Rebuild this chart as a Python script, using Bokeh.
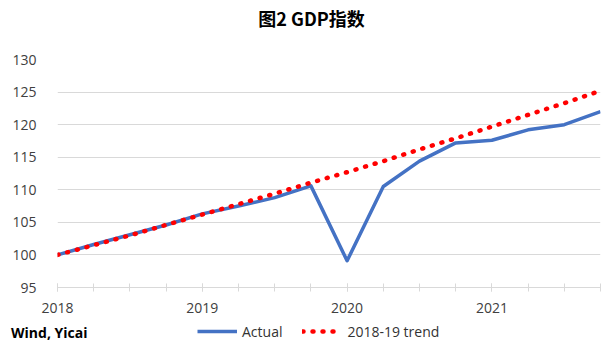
from bokeh.plotting import figure
from bokeh.models import Range1d, FixedTicker, Legend, LegendItem, Label, LinearAxis
from bokeh.layouts import column
from bokeh.embed import file_html
from bokeh.resources import INLINE

# Quarterly index, 2018Q1 .. 2021Q4
quarters = list(range(16))
actual = [100.0, 101.6, 103.1, 104.6, 106.3, 107.5, 108.8, 110.6,
          99.1, 110.5, 114.4, 117.2, 117.6, 119.2, 120.0, 122.0]
trend = [100.0, 101.5, 103.0, 104.6, 106.2, 107.8, 109.4, 111.1,
         112.7, 114.4, 116.2, 117.9, 119.7, 121.5, 123.3, 125.2]
year_ticks = [0, 4, 8, 12]
year_labels = ["2018", "2019", "2020", "2021"]
y_ticks = [95, 100, 105, 110, 115, 120, 125, 130]

FONT = "Open Sans"
GRID = "#d9d9d9"
BLUE = "#4472C4"
RED = "#FF0000"
W = 606
L, R = 57, 6            # frame borders (frames are aligned in the column)


def strip(h):
    f = figure(width=W, height=h, output_backend="svg", toolbar_location=None,
               x_range=Range1d(L, W - R), y_range=Range1d(0, h),
               x_axis_type=None, y_axis_type=None,
               min_border_left=L, min_border_right=R, min_border_top=0, min_border_bottom=0)
    f.outline_line_color = None
    f.xgrid.visible = False
    f.ygrid.visible = False
    f.background_fill_color = "white"
    f.border_fill_color = "white"
    return f


# ---- title strip ----
top = strip(35)
top.add_layout(Label(x=311, y=18, text="图2 GDP指数", text_align="center", text_baseline="middle",
                     text_font="Noto Sans CJK SC", text_font_size="18px", text_font_style="bold",
                     text_color="black"))

# ---- main chart ----
p = figure(width=W, height=287, output_backend="svg", toolbar_location=None,
           x_range=Range1d(0, 15), y_range=Range1d(95, 130),
           min_border_left=L, min_border_right=R, min_border_top=24, min_border_bottom=35)
p.outline_line_color = None
p.background_fill_color = "white"
p.border_fill_color = "white"

p.line(quarters, actual, line_color=BLUE, line_width=3.5, line_join="round")
p.line(quarters, trend, line_color=RED, line_width=4.5, line_dash="1 9", line_cap="round")

xa = p.xaxis[0]
xa.ticker = FixedTicker(ticks=year_ticks, minor_ticks=quarters)
xa.major_label_overrides = {t: l for t, l in zip(year_ticks, year_labels)}
xa.axis_line_color = GRID
xa.major_tick_line_color = GRID
xa.minor_tick_line_color = GRID
xa.major_tick_in = 4
xa.major_tick_out = 4
xa.minor_tick_in = 4
xa.minor_tick_out = 4
xa.major_label_standoff = 11
xa.major_label_text_font = FONT
xa.major_label_text_font_size = "14px"
xa.major_label_text_color = "#404040"

ya = p.yaxis[0]
ya.ticker = FixedTicker(ticks=y_ticks)
ya.axis_line_color = None
ya.major_tick_line_color = None
ya.minor_tick_line_color = None
ya.major_tick_out = 0
ya.minor_tick_out = 0
ya.major_label_standoff = 21
ya.major_label_text_font = FONT
ya.major_label_text_font_size = "14px"
ya.major_label_text_color = "#404040"

p.xgrid.grid_line_color = None
p.ygrid.grid_line_color = GRID
p.ygrid.grid_line_width = 1

# ---- legend / source strip ----
bot = strip(29)
la = bot.line(quarters, actual, line_color=BLUE, line_width=3.5)      # off-view, legend only
lt = bot.line(quarters, trend, line_color=RED, line_width=4.5, line_dash="1 9", line_cap="round")
legend = Legend(items=[LegendItem(label="Actual", renderers=[la]),
                       LegendItem(label="2018-19 trend", renderers=[lt])],
                orientation="horizontal", location=(197 - L, 10),
                glyph_width=40, glyph_height=20, label_height=20,
                label_standoff=5, spacing=20, padding=0, margin=0,
                border_line_color=None, background_fill_alpha=0,
                label_text_font=FONT, label_text_font_size="14px",
                label_text_color="#333333")
bot.add_layout(legend)

# source note drawn as the strip's left-axis label (side panels are not clipped)
src_axis = LinearAxis(ticker=FixedTicker(ticks=[20]), major_label_overrides={20: "Wind, Yicai"},
                      axis_line_color=None, major_tick_line_color=None, minor_tick_line_color=None,
                      major_tick_out=0, minor_tick_out=0, major_label_standoff=-30,
                      major_label_text_font=FONT, major_label_text_font_size="14px",
                      major_label_text_font_style="bold", major_label_text_color="black")
bot.add_layout(src_axis, "left")

layout = column(top, p, bot, spacing=0)
open("out.html", "w").write(file_html(layout, INLINE))
